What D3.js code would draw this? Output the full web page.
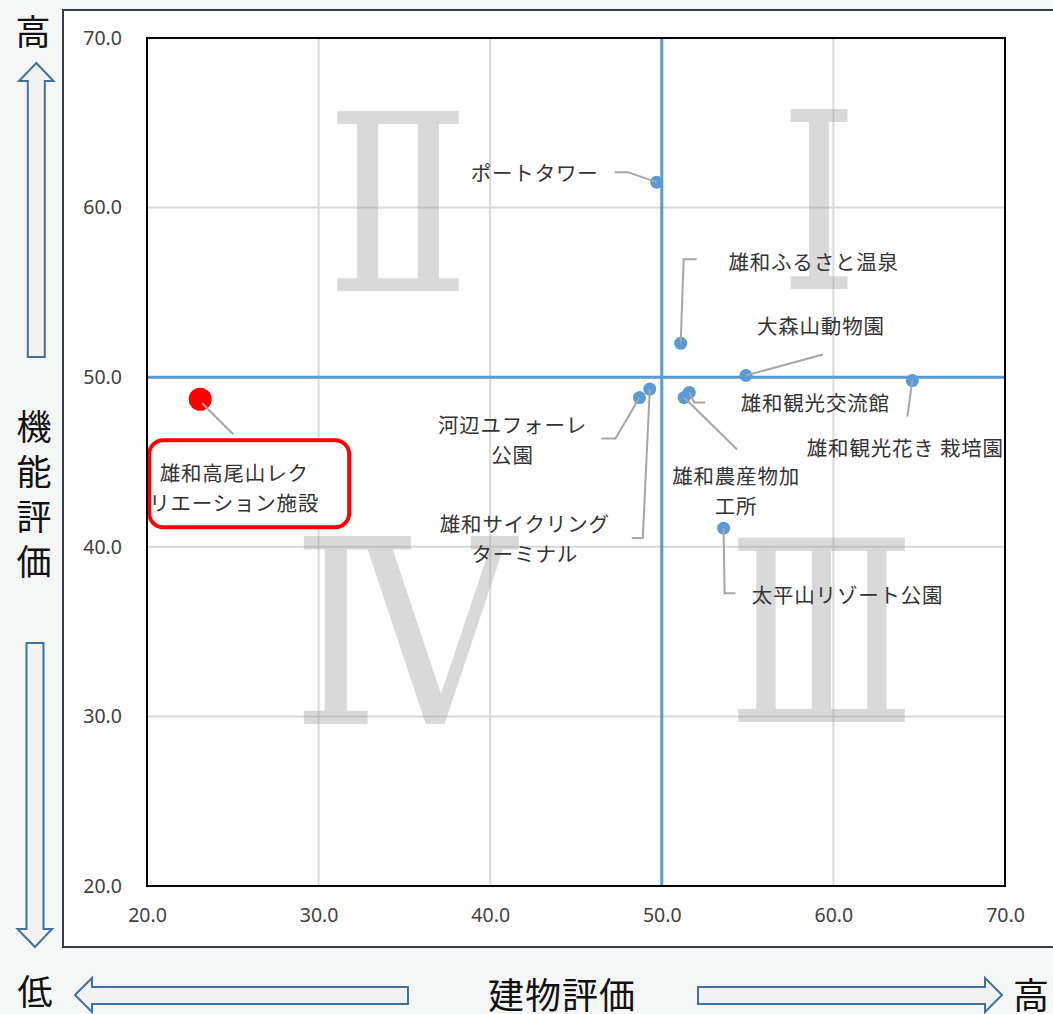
<!DOCTYPE html>
<html><head><meta charset="utf-8">
<script src="https://cdn.jsdelivr.net/npm/d3@7"></script>
<style>body{margin:0;background:#f5f7f7;} svg{display:block;}</style>
</head><body>
<svg id="c" width="1053" height="1014"></svg>
<script>
// ---- data ----
const facilities = ["ポートタワー","雄和ふるさと温泉","大森山動物園","雄和観光花き栽培園","河辺ユフォーレ公園","雄和サイクリングターミナル","雄和観光交流館","雄和農産物加工所","太平山リゾート公園","雄和高尾山レクリエーション施設"];
const buildingScore = [49.7, 51.1, 54.9, 64.6, 48.7, 49.3, 51.6, 51.3, 53.6, 23.1];
const functionScore = [61.5, 52.0, 50.1, 49.8, 48.8, 49.3, 49.1, 48.8, 41.1, 48.7];
const labelLines = [["ポートタワー"],["雄和ふるさと温泉"],["大森山動物園"],["雄和観光花き 栽培園"],["河辺ユフォーレ","公園"],["雄和サイクリング","ターミナル"],["雄和観光交流館"],["雄和農産物加","工所"],["太平山リゾート公園"],["雄和高尾山レク","リエーション施設"]];
const highlightIndex = 9;
const xTicks = [20, 30, 40, 50, 60, 70];
const yTicks = [20, 30, 40, 50, 60, 70];
const quadrants = ["Ⅰ","Ⅱ","Ⅲ","Ⅳ"];
const yAxisTitle = ["機","能","評","価"];
const xAxisTitle = "建物評価";
const highText = "高", lowText = "低";

// ---- label layout (pixel offsets from point) ----
const labelLayout = [
  {dx:-122, dy:-10, leader:[[-42,-10],[-29,-10],[0,0]]},
  {dx:133, dy:-82, leader:[[0,0],[3,-84],[16,-84]]},
  {dx:75, dy:-51, leader:[[0,0],[77,-21]]},
  {dx:-7, dy:66, leader:[[0,0],[-5,36]]},
  {dx:-127, dy:26, leader:[[0,0],[-24,41],[-38,41]]},
  {dx:-125, dy:134, leader:[[0,0],[-7,149],[-18,149]]},
  {dx:126, dy:10, leader:[[0,0],[5,10],[16,10]]},
  {dx:52, dy:77, leader:[[0,0],[53,52]]},
  {dx:124, dy:66, leader:[[0,0],[1,65],[12,65]]},
  {dx:34, dy:73, leader:[[2,4],[33,35]]}
];
// quadrant numeral layout: centre x, text length, baseline, size
const quadLayout = [
  {cx:819, w:79, base:289, fs:248},
  {cx:398, w:145, base:291, fs:248},
  {cx:821.5, w:188, base:722, fs:252},
  {cx:403.5, w:224, base:724, fs:258}
];

const svg = d3.select("#c");
const W = 1053, H = 1014;
const plot = {l:147, r:1005, t:38, b:886};
const x = d3.scaleLinear().domain([20,70]).range([plot.l, plot.r]);
const y = d3.scaleLinear().domain([20,70]).range([plot.b, plot.t]);

svg.append("rect").attr("width",W).attr("height",H).attr("fill","#f5f7f7");
svg.append("rect").attr("x",63).attr("y",10).attr("width",1010).attr("height",937)
  .attr("fill","#fff").attr("stroke","#363c46").attr("stroke-width",2);

// gridlines
const g = svg.append("g");
g.selectAll("line.vg").data(xTicks.slice(1,-1)).join("line")
  .attr("x1",d=>x(d)).attr("x2",d=>x(d)).attr("y1",plot.t).attr("y2",plot.b)
  .attr("stroke","#d9d9d9").attr("stroke-width",2);
g.selectAll("line.hg").data(yTicks.slice(1,-1)).join("line")
  .attr("y1",d=>y(d)).attr("y2",d=>y(d)).attr("x1",plot.l).attr("x2",plot.r)
  .attr("stroke","#d9d9d9").attr("stroke-width",2);

// quadrant numerals
g.selectAll("text.q").data(quadrants).join("text")
  .attr("x",(d,i)=>quadLayout[i].cx - quadLayout[i].w/2).attr("y",(d,i)=>quadLayout[i].base)
  .attr("textLength",(d,i)=>quadLayout[i].w).attr("lengthAdjust","spacingAndGlyphs")
  .attr("font-family","'DejaVu Serif', serif").attr("font-size",(d,i)=>quadLayout[i].fs)
  .attr("fill","#9a9a9a").attr("fill-opacity",0.38).text(d=>d);

// axis lines (blue)
g.append("line").attr("x1",plot.l).attr("x2",plot.r).attr("y1",y(50)).attr("y2",y(50))
  .attr("stroke","#5b9bd5").attr("stroke-width",3);
g.append("line").attr("x1",x(50)).attr("x2",x(50)).attr("y1",plot.t).attr("y2",plot.b)
  .attr("stroke","#5b9bd5").attr("stroke-width",3);

// axes tick labels
const fmt = d3.format(".1f");
const xa = svg.append("g").attr("transform",`translate(0,${plot.b})`)
  .call(d3.axisBottom(x).tickValues(xTicks).tickFormat(fmt).tickSize(0).tickPadding(22));
const ya = svg.append("g").attr("transform",`translate(${plot.l},0)`)
  .call(d3.axisLeft(y).tickValues(yTicks).tickFormat(fmt).tickSize(0).tickPadding(25));
[xa,ya].forEach(a=>{a.select(".domain").remove();
  a.selectAll("text").attr("font-family","'Noto Sans', 'Open Sans', sans-serif").attr("font-size",19.5).attr("fill","#404040");});

const data = facilities.map((n,i)=>({name:n, bx:buildingScore[i], fy:functionScore[i], lines:labelLines[i], lay:labelLayout[i], hi:i===highlightIndex}));

// highlight box
const hd = data[highlightIndex];
svg.append("rect").attr("x",x(hd.bx)-51).attr("y",y(hd.fy)+41).attr("width",200).attr("height",87)
  .attr("rx",14).attr("fill","#fff").attr("stroke","#ff0000").attr("stroke-width",4);

// points
svg.selectAll("circle.p").data(data).join("circle")
  .attr("cx",d=>x(d.bx)).attr("cy",d=>y(d.fy))
  .attr("r",d=>d.hi?11.5:6.5).attr("fill",d=>d.hi?"#ff0000":"#5b9bd5");

// leader lines
const line = d3.line();
svg.selectAll("path.ld").data(data).join("path")
  .attr("d",d=>line(d.lay.leader.map(p=>[x(d.bx)+p[0], y(d.fy)+p[1]])))
  .attr("fill","none").attr("stroke","#a6a6a6").attr("stroke-width",2);

// labels
const lbl = svg.selectAll("text.lb").data(data).join("text")
  .attr("font-family","'Noto Sans CJK JP', sans-serif").attr("font-size",20.5)
  .attr("letter-spacing",0.8).attr("fill","#333").attr("text-anchor","middle");
lbl.each(function(d){
  const t = d3.select(this);
  d.lines.forEach((s,k)=>{
    t.append("tspan").attr("x",x(d.bx)+d.lay.dx).attr("y",y(d.fy)+d.lay.dy+k*30)
      .attr("dominant-baseline","central").text(s);
  });
});

// plot border
svg.append("rect").attr("x",plot.l).attr("y",plot.t).attr("width",plot.r-plot.l).attr("height",plot.b-plot.t)
  .attr("fill","none").attr("stroke","#000").attr("stroke-width",2);

// outer titles
const big = "'Noto Sans CJK JP', sans-serif";
svg.append("text").attr("x",33).attr("y",29).attr("text-anchor","middle").attr("dominant-baseline","central")
  .attr("font-family",big).attr("font-size",35).attr("fill","#111").text(highText);
svg.selectAll("text.yt").data(yAxisTitle).join("text")
  .attr("x",34).attr("y",(d,i)=>424+i*45).attr("text-anchor","middle").attr("dominant-baseline","central")
  .attr("font-family",big).attr("font-size",35).attr("fill","#111").text(d=>d);
svg.append("text").attr("x",35).attr("y",989).attr("text-anchor","middle").attr("dominant-baseline","central")
  .attr("font-family",big).attr("font-size",35).attr("fill","#111").text(lowText);
svg.append("text").attr("x",562).attr("y",993).attr("text-anchor","middle").attr("dominant-baseline","central")
  .attr("font-family",big).attr("font-size",36).attr("letter-spacing",1).attr("fill","#111").text(xAxisTitle);
svg.append("text").attr("x",1013).attr("y",993).attr("dominant-baseline","central")
  .attr("font-family",big).attr("font-size",36).attr("fill","#111").text(highText);

// block arrows
const arrows = [
  [[36.3,63],[53.5,81],[44.8,81],[44.8,357],[27.8,357],[27.8,81],[19,81]],
  [[26.5,643],[43.5,643],[43.5,929],[52,929],[35,947],[17.5,929],[26.5,929]],
  [[75,995],[92,978],[92,987],[408,987],[408,1004],[92,1004],[92,1012]],
  [[698,987],[985,987],[985,978],[1002,995],[985,1012],[985,1004],[698,1004]]
];
svg.selectAll("path.ar").data(arrows).join("path")
  .attr("d",d=>d3.line()(d)+"Z").attr("fill","#f2f2f2").attr("stroke","#41719c").attr("stroke-width",2);
</script>
</body></html>
